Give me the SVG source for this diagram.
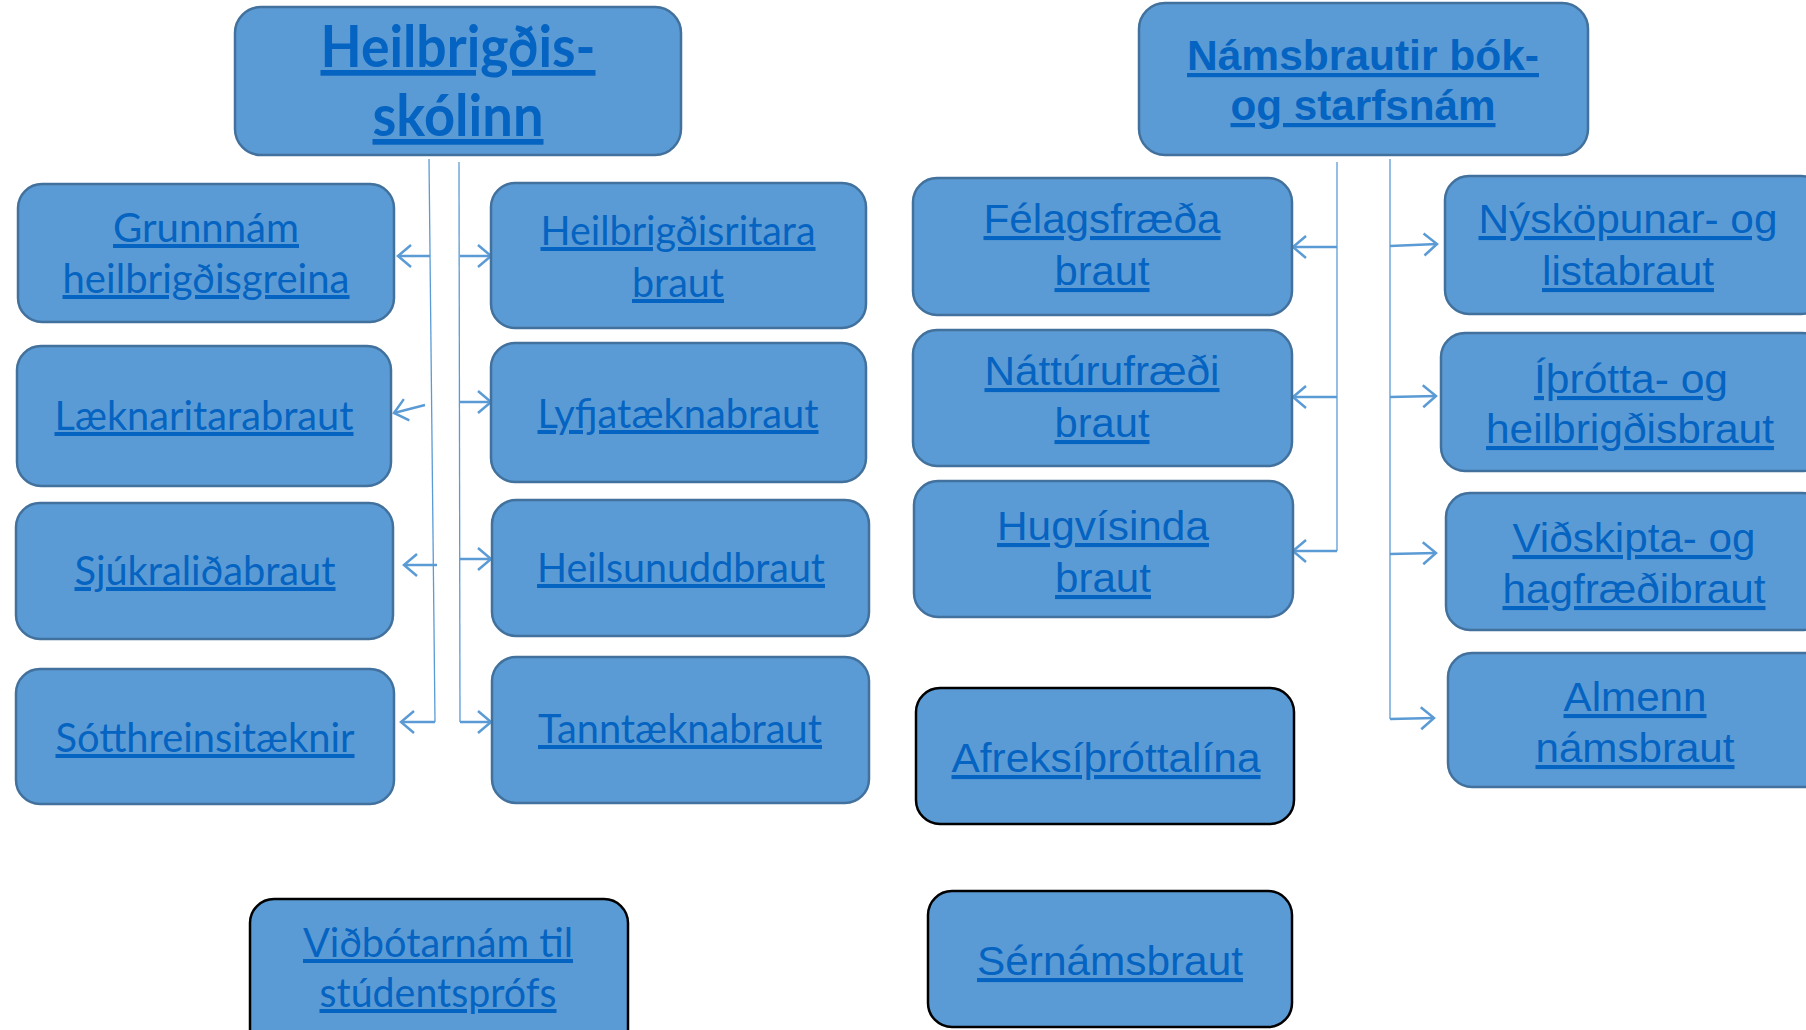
<svg xmlns="http://www.w3.org/2000/svg" width="1806" height="1030" viewBox="0 0 1806 1030">
<style>
.box{fill:#5b9bd5;stroke:#41719c;stroke-width:2.5}
.boxk{fill:#5b9bd5;stroke:#000;stroke-width:2.5}
.tl{font-family:Lato,"Open Sans","DejaVu Sans",sans-serif;font-size:40px;fill:#0563c1;text-decoration:underline;text-anchor:middle}
.tlb{font-family:Lato,"Open Sans","DejaVu Sans",sans-serif;font-size:57px;font-weight:bold;fill:#0563c1;text-decoration:underline;text-anchor:middle}
.tr{font-family:"Liberation Sans",Arial,sans-serif;font-size:41px;fill:#0563c1;text-decoration:underline;text-anchor:middle}
.trb{font-family:"Liberation Sans",Arial,sans-serif;font-size:42px;font-weight:bold;fill:#0563c1;text-decoration:underline;text-anchor:middle}
.trunk{fill:none;stroke:#5b9bd5;stroke-width:1.3}
.br{fill:none;stroke:#5b9bd5;stroke-width:2.5;marker-end:url(#ah)}
</style>
<defs>
<marker id="ah" markerUnits="userSpaceOnUse" markerWidth="20" markerHeight="26" refX="15" refY="13" orient="auto">
<path d="M2,2 L15,13 L2,24" fill="none" stroke="#5b9bd5" stroke-width="2.5"/>
</marker>
</defs>
<rect width="1806" height="1030" fill="#fff"/>
<g id="connectors">
<path class="trunk" d="M429,159 L435,722"/>
<path class="trunk" d="M459,162 L460,722"/>
<path class="br" d="M430,256 L398,256"/>
<path class="br" d="M425,405 L394,413"/>
<path class="br" d="M437,565 L404,565"/>
<path class="br" d="M435,722 L401,722"/>
<path class="br" d="M460,256 L491,256"/>
<path class="br" d="M460,402 L491,402"/>
<path class="br" d="M460,559 L491,559"/>
<path class="br" d="M460,722 L491,722"/>
<path class="trunk" d="M1337,162 L1337,551"/>
<path class="trunk" d="M1390,159 L1390,719"/>
<path class="br" d="M1337,247 L1293,247"/>
<path class="br" d="M1337,397 L1293,397"/>
<path class="br" d="M1337,551 L1293,551"/>
<path class="br" d="M1390,246 L1437,244"/>
<path class="br" d="M1390,397 L1436,396"/>
<path class="br" d="M1390,554 L1436,553"/>
<path class="br" d="M1390,719 L1434,718"/>
</g>
<g id="heilbrigdisskolinn">
<rect class="box" x="235" y="7" width="446" height="148" rx="26"/>
<text class="tlb" x="458" y="67" textLength="275" lengthAdjust="spacingAndGlyphs">Heilbrigðis-</text>
<text class="tlb" x="458" y="136" textLength="171" lengthAdjust="spacingAndGlyphs">skólinn</text>
</g>
<g id="grunnnam">
<rect class="box" x="18" y="184" width="376" height="138" rx="24"/>
<text class="tl" x="206" y="242" textLength="186" lengthAdjust="spacingAndGlyphs">Grunnnám</text>
<text class="tl" x="206" y="293" textLength="287" lengthAdjust="spacingAndGlyphs">heilbrigðisgreina</text>
</g>
<g id="heilbrigdisritara">
<rect class="box" x="491" y="183" width="375" height="145" rx="24"/>
<text class="tl" x="678" y="245" textLength="275" lengthAdjust="spacingAndGlyphs">Heilbrigðisritara</text>
<text class="tl" x="678" y="297" textLength="92" lengthAdjust="spacingAndGlyphs">braut</text>
</g>
<g id="laeknaritarabraut">
<rect class="box" x="17" y="346" width="374" height="140" rx="24"/>
<text class="tl" x="204" y="430" textLength="299" lengthAdjust="spacingAndGlyphs">Læknaritarabraut</text>
</g>
<g id="lyfjataeknabraut">
<rect class="box" x="491" y="343" width="375" height="139" rx="24"/>
<text class="tl" x="678" y="428" textLength="281" lengthAdjust="spacingAndGlyphs">Lyfjatæknabraut</text>
</g>
<g id="sjukralidabraut">
<rect class="box" x="16" y="503" width="377" height="136" rx="24"/>
<text class="tl" x="205" y="585" textLength="261" lengthAdjust="spacingAndGlyphs">Sjúkraliðabraut</text>
</g>
<g id="heilsunuddbraut">
<rect class="box" x="492" y="500" width="377" height="136" rx="24"/>
<text class="tl" x="681" y="582" textLength="288" lengthAdjust="spacingAndGlyphs">Heilsunuddbraut</text>
</g>
<g id="sotthreinsitaeknir">
<rect class="box" x="16" y="669" width="378" height="135" rx="24"/>
<text class="tl" x="205" y="752" textLength="299" lengthAdjust="spacingAndGlyphs">Sótthreinsitæknir</text>
</g>
<g id="tanntaeknabraut">
<rect class="box" x="492" y="657" width="377" height="146" rx="24"/>
<text class="tl" x="680" y="743" textLength="284" lengthAdjust="spacingAndGlyphs">Tanntæknabraut</text>
</g>
<g id="vidbotarnam">
<rect class="boxk" x="250" y="899" width="378" height="160" rx="24"/>
<text class="tl" x="438" y="957" textLength="270" lengthAdjust="spacingAndGlyphs">Viðbótarnám til</text>
<text class="tl" x="438" y="1007" textLength="237" lengthAdjust="spacingAndGlyphs">stúdentsprófs</text>
</g>
<g id="namsbrautir">
<rect class="box" x="1139" y="3" width="449" height="152" rx="26"/>
<text class="trb" x="1363" y="70" textLength="352" lengthAdjust="spacingAndGlyphs">Námsbrautir bók-</text>
<text class="trb" x="1363" y="120" textLength="265" lengthAdjust="spacingAndGlyphs">og starfsnám</text>
</g>
<g id="felagsfraeda">
<rect class="box" x="913" y="178" width="379" height="137" rx="24"/>
<text class="tr" x="1102" y="233" textLength="237" lengthAdjust="spacingAndGlyphs">Félagsfræða</text>
<text class="tr" x="1102" y="285" textLength="95" lengthAdjust="spacingAndGlyphs">braut</text>
</g>
<g id="nyskopunar">
<rect class="box" x="1445" y="176" width="380" height="138" rx="24"/>
<text class="tr" x="1628" y="233" textLength="299" lengthAdjust="spacingAndGlyphs">Nýsköpunar- og</text>
<text class="tr" x="1628" y="285" textLength="172" lengthAdjust="spacingAndGlyphs">listabraut</text>
</g>
<g id="natturufraedi">
<rect class="box" x="913" y="330" width="379" height="136" rx="24"/>
<text class="tr" x="1102" y="385" textLength="235" lengthAdjust="spacingAndGlyphs">Náttúrufræði</text>
<text class="tr" x="1102" y="437" textLength="95" lengthAdjust="spacingAndGlyphs">braut</text>
</g>
<g id="ithrotta">
<rect class="box" x="1441" y="333" width="385" height="138" rx="24"/>
<text class="tr" x="1631" y="393" textLength="194" lengthAdjust="spacingAndGlyphs">Íþrótta- og</text>
<text class="tr" x="1630" y="443" textLength="288" lengthAdjust="spacingAndGlyphs">heilbrigðisbraut</text>
</g>
<g id="hugvisinda">
<rect class="box" x="914" y="481" width="379" height="136" rx="24"/>
<text class="tr" x="1103" y="540" textLength="212" lengthAdjust="spacingAndGlyphs">Hugvísinda</text>
<text class="tr" x="1103" y="592" textLength="96" lengthAdjust="spacingAndGlyphs">braut</text>
</g>
<g id="vidskipta">
<rect class="box" x="1446" y="493" width="380" height="137" rx="24"/>
<text class="tr" x="1634" y="552" textLength="243" lengthAdjust="spacingAndGlyphs">Viðskipta- og</text>
<text class="tr" x="1634" y="603" textLength="263" lengthAdjust="spacingAndGlyphs">hagfræðibraut</text>
</g>
<g id="almenn">
<rect class="box" x="1448" y="653" width="380" height="134" rx="24"/>
<text class="tr" x="1635" y="711" textLength="143" lengthAdjust="spacingAndGlyphs">Almenn</text>
<text class="tr" x="1635" y="762" textLength="199" lengthAdjust="spacingAndGlyphs">námsbraut</text>
</g>
<g id="afreks">
<rect class="boxk" x="916" y="688" width="378" height="136" rx="24"/>
<text class="tr" x="1106" y="772" textLength="309" lengthAdjust="spacingAndGlyphs">Afreksíþróttalína</text>
</g>
<g id="sernams">
<rect class="boxk" x="928" y="891" width="364" height="136" rx="24"/>
<text class="tr" x="1110" y="975" textLength="266" lengthAdjust="spacingAndGlyphs">Sérnámsbraut</text>
</g>
</svg>
